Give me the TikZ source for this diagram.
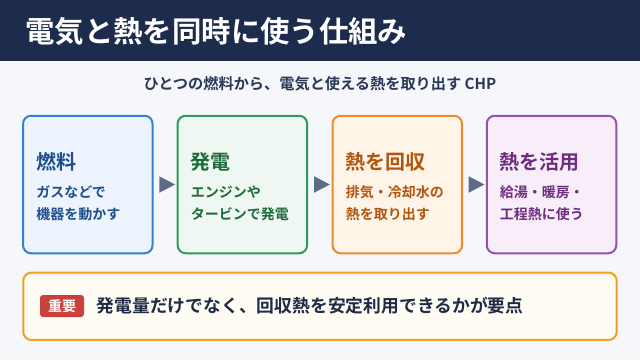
\documentclass[tikz,border=0pt]{standalone}
\usepackage{fontspec}
\setmainfont{Noto Sans CJK JP}[BoldFont={Noto Sans CJK JP Bold}]
\usetikzlibrary{calc}
\definecolor{bgc}{HTML}{F5F7FB}
\definecolor{barc}{HTML}{1D2B4C}
\definecolor{subc}{HTML}{2A3756}
\definecolor{bluebd}{HTML}{3480D2}
\definecolor{bluefl}{HTML}{EDF4FE}
\definecolor{bluetx}{HTML}{1E4E8C}
\definecolor{greenbd}{HTML}{2E9A5C}
\definecolor{greenfl}{HTML}{EEF7F1}
\definecolor{greentx}{HTML}{1E6B3A}
\definecolor{orangebd}{HTML}{EE8A2E}
\definecolor{orangefl}{HTML}{FFF4E8}
\definecolor{orangetx}{HTML}{B0560F}
\definecolor{purplebd}{HTML}{9552AE}
\definecolor{purplefl}{HTML}{F7EEF9}
\definecolor{purpletx}{HTML}{6E2E80}
\definecolor{notebd}{HTML}{F0A21E}
\definecolor{notefl}{HTML}{FFFCF4}
\definecolor{badgec}{HTML}{C9413A}
\definecolor{arrowc}{HTML}{5D6B85}
\definecolor{notetx}{HTML}{1F2B45}
\begin{document}
\begin{tikzpicture}[x=1pt,y=-1pt,
  stagebox/.style={draw=#1bd, fill=#1fl, line width=2pt, rounded corners=8pt,
    minimum width=129.5pt, minimum height=137.5pt, inner sep=0pt},
  stagetitle/.style={anchor=west, inner sep=0pt, text=#1tx,
    font=\fontsize{20}{24}\selectfont\bfseries},
  stagebody/.style={anchor=west, inner sep=0pt, text=#1tx,
    font=\fontsize{14}{17}\selectfont\bfseries},
  flowtri/.style={fill=arrowc}]
\useasboundingbox (0,0) rectangle (640,360);
\fill[bgc] (0,0) rectangle (640,360);
\fill[barc] (0,0) rectangle (640,60.5);
\node[anchor=west, inner sep=0pt, text=white, font=\fontsize{29.4}{34}\selectfont\bfseries] (title) at (25,31.5) {電気と熱を同時に使う仕組み};
\node[inner sep=0pt, text=subc, font=\fontsize{15.2}{18}\selectfont\bfseries] (sub) at (320,83.5) {ひとつの燃料から、電気と使える熱を取り出す CHP};

\node[stagebox=blue] (b1) at (87.8,184.5) {};
\node[stagebox=green] (b2) at (242.4,184.5) {};
\node[stagebox=orange] (b3) at (397.3,184.5) {};
\node[stagebox=purple] (b4) at (551.5,184.5) {};

\node[stagetitle=blue] (t1) at ($(b1.west)+(14,-22.5)$) {燃料};
\node[stagebody=blue] (l1a) at ($(b1.west)+(14,7.5)$) {ガスなどで};
\node[stagebody=blue] (l1b) at ($(b1.west)+(14,29.5)$) {機器を動かす};

\node[stagetitle=green] (t2) at ($(b2.west)+(14,-22.5)$) {発電};
\node[stagebody=green] (l2a) at ($(b2.west)+(14,7.5)$) {エンジンや};
\node[stagebody=green] (l2b) at ($(b2.west)+(14,29.5)$) {タービンで発電};

\node[stagetitle=orange] (t3) at ($(b3.west)+(14,-22.5)$) {熱を回収};
\node[stagebody=orange] (l3a) at ($(b3.west)+(14,7.5)$) {排気・冷却水の};
\node[stagebody=orange] (l3b) at ($(b3.west)+(14,29.5)$) {熱を取り出す};

\node[stagetitle=purple] (t4) at ($(b4.west)+(14,-22.5)$) {熱を活用};
\node[stagebody=purple] (l4a) at ($(b4.west)+(14,7.5)$) {給湯・暖房・};
\node[stagebody=purple] (l4b) at ($(b4.west)+(14,29.5)$) {工程熱に使う};

\foreach \a/\b [count=\i] in {b1/b2,b2/b3,b3/b4}{
  \coordinate (m\i) at ($(\a.east)!0.5!(\b.west)$);
  \fill[flowtri] ($(m\i)+(-5.7,-8.2)$) -- ($(m\i)+(10,0)$) -- ($(m\i)+(-5.7,8.2)$) -- cycle;
}

\node[draw=notebd, fill=notefl, line width=2pt, rounded corners=8pt,
  minimum width=593.4pt, minimum height=67.3pt, inner sep=0pt] (note) at (320,306.3) {};
\node[fill=badgec, rounded corners=3pt, minimum width=44pt, minimum height=22pt, inner sep=0pt,
  text=white, font=\fontsize{14}{16}\selectfont\bfseries] (badge) at (62,306) {重要};
\node[anchor=west, inner sep=0pt, text=notetx, font=\fontsize{17.8}{21}\selectfont\bfseries] (notetext) at (96.5,306) {発電量だけでなく、回収熱を安定利用できるかが要点};
\end{tikzpicture}
\end{document}
